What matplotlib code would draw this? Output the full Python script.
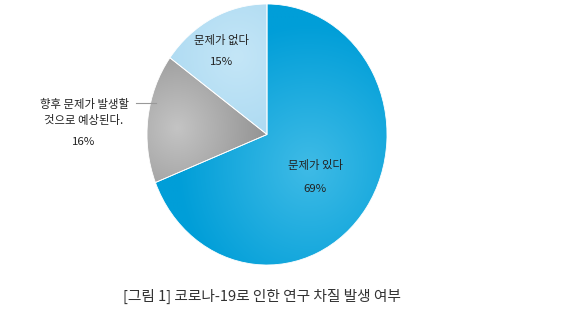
import matplotlib
matplotlib.use("Agg")
import matplotlib.pyplot as plt
import numpy as np

plt.rcParams['font.family'] = ['Noto Sans CJK KR', 'DejaVu Sans']

# 데이터
labels = ["문제가 있다", "향후 문제가 발생할\n것으로 예상된다.", "문제가 없다"]
values = [69, 16, 15]
caption = "[그림 1] 코로나-19로 인한 연구 차질 발생 여부"

# (edge colour, centre colour, gradient centre) for each wedge
grad = [("#009ed8", "#3fbbe6", (0.35, -0.25)),
        ("#7c7c7c", "#c4c4c4", (-0.75, 0.05)),
        ("#9dd2ee", "#c4e6f7", (-0.25, 0.6))]

W, H = 567, 331
fig = plt.figure(figsize=(W / 100, H / 100), dpi=100)
fig.patch.set_facecolor("white")

# pie axes placed in pixel box: x 147..387, y 4..265 (from top)
x0, x1, y0, y1 = 147, 387, 4, 265
ax = fig.add_axes([x0 / W, 1 - y1 / H, (x1 - x0) / W, (y1 - y0) / H])
wedges, _ = ax.pie(values, startangle=90, counterclock=False, radius=1,
                   wedgeprops=dict(edgecolor="white", linewidth=0.6))

gx, gy = np.meshgrid(np.linspace(-1, 1, 300), np.linspace(-1, 1, 300))
for w, (c_out, c_in, (cx, cy)) in zip(wedges, grad):
    co = np.array(matplotlib.colors.to_rgb(c_out))
    ci = np.array(matplotlib.colors.to_rgb(c_in))
    d = np.clip(np.hypot(gx - cx, gy - cy) / 1.1, 0, 1)[..., None]
    img = ci * (1 - d) + co * d
    im = ax.imshow(img, extent=(-1, 1, -1, 1), origin="lower", zorder=w.get_zorder() - 0.1,
                   interpolation="bilinear", aspect="auto")
    im.set_clip_path(w)
    w.set_facecolor("none")

ax.set_aspect("auto")
ax.set_xlim(-1, 1)
ax.set_ylim(-1, 1)
ax.axis("off")

# 라벨 (figure pixel coords)
def px(x, y):
    return x / W, 1 - y / H

fs = 8.2
tc = "#222222"
fw = "medium"
fig.text(*px(315, 166), labels[0], ha="center", va="center", fontsize=fs, color=tc, fontweight=fw)
fig.text(*px(315, 189), f"{values[0]}%", ha="center", va="center", fontsize=fs, color=tc, fontweight=fw)
fig.text(*px(222, 40), labels[2], ha="center", va="center", fontsize=fs, color=tc, fontweight=fw)
fig.text(*px(222, 62), f"{values[2]}%", ha="center", va="center", fontsize=fs, color=tc, fontweight=fw)
fig.text(*px(84, 112), labels[1], ha="center", va="center", fontsize=fs, color=tc,
         linespacing=1.55, fontweight=fw)
fig.text(*px(84, 142), f"{values[1]}%", ha="center", va="center", fontsize=fs, color=tc, fontweight=fw)
fig.add_artist(plt.Line2D([136 / W, 156 / W], [1 - 103 / H, 1 - 103 / H],
                          color="#999999", linewidth=0.8))

fig.text(*px(262, 296), caption, ha="center", va="center", fontsize=10.6, color="#333333",
         fontweight=fw)

fig.savefig("out.png", dpi=100)
